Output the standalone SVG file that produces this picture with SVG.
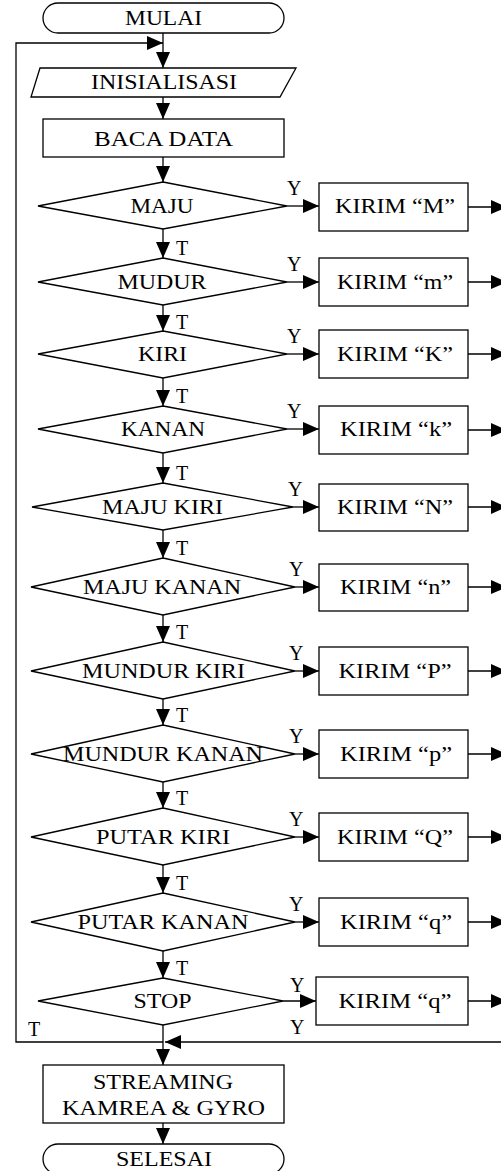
<svg xmlns="http://www.w3.org/2000/svg" width="501" height="1171" viewBox="0 0 501 1171">
<style>
.s{fill:#fff;stroke:#000;stroke-width:1.3}
.c{fill:none;stroke:#000;stroke-width:1.3}
text{font-family:"Liberation Serif","Times New Roman",serif;font-size:20px;fill:#000}
.m{text-anchor:middle}
</style>
<defs>
<marker id="ah" markerUnits="userSpaceOnUse" markerWidth="16" markerHeight="14" refX="16" refY="7" orient="auto">
<path d="M0,0 L16,7 L0,14 z" fill="#000"/>
</marker>
</defs>
<rect width="501" height="1171" fill="#fff"/>
<g id="connectors">
<line class="c" x1="163" y1="33" x2="163" y2="68" marker-end="url(#ah)"/>
<polyline class="c" points="163,1042 16,1042 16,43 163,43" marker-end="url(#ah)"/>
<line class="c" x1="163" y1="97" x2="163" y2="119" marker-end="url(#ah)"/>
<line class="c" x1="163" y1="157" x2="163" y2="182" marker-end="url(#ah)"/>
<line class="c" x1="163" y1="229" x2="163" y2="258" marker-end="url(#ah)"/>
<line class="c" x1="163" y1="305" x2="163" y2="331" marker-end="url(#ah)"/>
<line class="c" x1="163" y1="378" x2="163" y2="406" marker-end="url(#ah)"/>
<line class="c" x1="163" y1="453" x2="163" y2="483" marker-end="url(#ah)"/>
<line class="c" x1="163" y1="530" x2="163" y2="558" marker-end="url(#ah)"/>
<line class="c" x1="163" y1="615" x2="163" y2="642" marker-end="url(#ah)"/>
<line class="c" x1="163" y1="699" x2="163" y2="725" marker-end="url(#ah)"/>
<line class="c" x1="163" y1="782" x2="163" y2="808" marker-end="url(#ah)"/>
<line class="c" x1="163" y1="865" x2="163" y2="893" marker-end="url(#ah)"/>
<line class="c" x1="163" y1="951" x2="163" y2="978" marker-end="url(#ah)"/>
<line class="c" x1="163" y1="1025" x2="163" y2="1065" marker-end="url(#ah)"/>
<line class="c" x1="163" y1="1123" x2="163" y2="1144" marker-end="url(#ah)"/>
<line class="c" x1="507" y1="1042" x2="165" y2="1042" marker-end="url(#ah)"/>
<line class="c" x1="287" y1="206" x2="319" y2="206" marker-end="url(#ah)"/>
<line class="c" x1="287" y1="282" x2="319" y2="282" marker-end="url(#ah)"/>
<line class="c" x1="287" y1="354" x2="319" y2="354" marker-end="url(#ah)"/>
<line class="c" x1="287" y1="429" x2="319" y2="429" marker-end="url(#ah)"/>
<line class="c" x1="293" y1="507" x2="319" y2="507" marker-end="url(#ah)"/>
<line class="c" x1="295" y1="587" x2="319" y2="587" marker-end="url(#ah)"/>
<line class="c" x1="295" y1="671" x2="319" y2="671" marker-end="url(#ah)"/>
<line class="c" x1="295" y1="754" x2="319" y2="754" marker-end="url(#ah)"/>
<line class="c" x1="295" y1="837" x2="319" y2="837" marker-end="url(#ah)"/>
<line class="c" x1="295" y1="922" x2="319" y2="922" marker-end="url(#ah)"/>
<line class="c" x1="283" y1="1001" x2="316" y2="1001" marker-end="url(#ah)"/>
<line class="c" x1="468" y1="207" x2="507" y2="207" marker-end="url(#ah)"/>
<line class="c" x1="468" y1="282" x2="507" y2="282" marker-end="url(#ah)"/>
<line class="c" x1="468" y1="354" x2="507" y2="354" marker-end="url(#ah)"/>
<line class="c" x1="468" y1="430" x2="507" y2="430" marker-end="url(#ah)"/>
<line class="c" x1="468" y1="507" x2="507" y2="507" marker-end="url(#ah)"/>
<line class="c" x1="468" y1="587" x2="507" y2="587" marker-end="url(#ah)"/>
<line class="c" x1="468" y1="671" x2="507" y2="671" marker-end="url(#ah)"/>
<line class="c" x1="468" y1="754" x2="507" y2="754" marker-end="url(#ah)"/>
<line class="c" x1="468" y1="837" x2="507" y2="837" marker-end="url(#ah)"/>
<line class="c" x1="468" y1="922" x2="507" y2="922" marker-end="url(#ah)"/>
<line class="c" x1="468" y1="1001" x2="507" y2="1001" marker-end="url(#ah)"/>
<g id="labels">
<text x="176" y="255">T</text>
<text x="176" y="329">T</text>
<text x="176" y="403">T</text>
<text x="176" y="480">T</text>
<text x="176" y="555">T</text>
<text x="176" y="639">T</text>
<text x="176" y="722">T</text>
<text x="176" y="805">T</text>
<text x="176" y="890">T</text>
<text x="176" y="975">T</text>
<text x="28" y="1036">T</text>
<text x="287" y="195">Y</text>
<text x="287" y="271">Y</text>
<text x="287" y="343">Y</text>
<text x="287" y="418">Y</text>
<text x="288" y="496">Y</text>
<text x="289" y="576">Y</text>
<text x="289" y="660">Y</text>
<text x="289" y="743">Y</text>
<text x="289" y="826">Y</text>
<text x="289" y="911">Y</text>
<text x="290" y="992">Y</text>
<text x="290" y="1034">Y</text>
</g>
</g>
<g id="mulai"><rect class="s" x="43" y="3" width="241" height="30" rx="15"/><text class="m" x="163.5" y="24.5" textLength="77" lengthAdjust="spacingAndGlyphs">MULAI</text></g>
<g id="inisialisasi"><polygon class="s" points="40,68 296,68 280,97 31,97"/><text class="m" x="164" y="89" textLength="146" lengthAdjust="spacingAndGlyphs">INISIALISASI</text></g>
<g id="baca"><rect class="s" x="43" y="119" width="241" height="38"/><text class="m" x="163.5" y="145.5" textLength="139" lengthAdjust="spacingAndGlyphs">BACA DATA</text></g>
<g id="d-maju"><polygon class="s" points="163,182 287,206 163,229 38,206"/><text class="m" x="162" y="213" textLength="63" lengthAdjust="spacingAndGlyphs">MAJU</text></g>
<g id="d-mudur"><polygon class="s" points="163,258 287,282 163,305 38,282"/><text class="m" x="162" y="288.5" textLength="89" lengthAdjust="spacingAndGlyphs">MUDUR</text></g>
<g id="d-kiri"><polygon class="s" points="163,331 287,354 163,378 38,354"/><text class="m" x="162.5" y="361" textLength="49" lengthAdjust="spacingAndGlyphs">KIRI</text></g>
<g id="d-kanan"><polygon class="s" points="163,406 287,429 163,453 38,429"/><text class="m" x="163" y="436" textLength="84" lengthAdjust="spacingAndGlyphs">KANAN</text></g>
<g id="d-majukiri"><polygon class="s" points="163,483 293,507 163,530 32,507"/><text class="m" x="162.5" y="514" textLength="121" lengthAdjust="spacingAndGlyphs">MAJU KIRI</text></g>
<g id="d-majukanan"><polygon class="s" points="163,558 295,587 163,615 31,587"/><text class="m" x="162" y="594" textLength="158" lengthAdjust="spacingAndGlyphs">MAJU KANAN</text></g>
<g id="d-mundurkiri"><polygon class="s" points="163,642 295,671 163,699 31,671"/><text class="m" x="163.5" y="678" textLength="163" lengthAdjust="spacingAndGlyphs">MUNDUR KIRI</text></g>
<g id="d-mundurkanan"><polygon class="s" points="163,725 295,754 163,782 31,754"/><text class="m" x="163" y="761" textLength="200" lengthAdjust="spacingAndGlyphs">MUNDUR KANAN</text></g>
<g id="d-putarkiri"><polygon class="s" points="163,808 295,837 163,865 31,837"/><text class="m" x="163" y="844" textLength="134" lengthAdjust="spacingAndGlyphs">PUTAR KIRI</text></g>
<g id="d-putarkanan"><polygon class="s" points="163,893 295,922 163,951 31,922"/><text class="m" x="163" y="929" textLength="171" lengthAdjust="spacingAndGlyphs">PUTAR KANAN</text></g>
<g id="d-stop"><polygon class="s" points="163,978 283,1001 163,1025 38,1001"/><text class="m" x="162.5" y="1008" textLength="58" lengthAdjust="spacingAndGlyphs">STOP</text></g>
<g id="k-M"><rect class="s" x="319" y="183" width="149" height="48"/><text class="m" x="395" y="213" textLength="120" lengthAdjust="spacingAndGlyphs">KIRIM “M”</text></g>
<g id="k-m"><rect class="s" x="319" y="258" width="149" height="48"/><text class="m" x="395" y="288.5" textLength="116" lengthAdjust="spacingAndGlyphs">KIRIM “m”</text></g>
<g id="k-K"><rect class="s" x="319" y="330" width="149" height="48"/><text class="m" x="395" y="361" textLength="116" lengthAdjust="spacingAndGlyphs">KIRIM “K”</text></g>
<g id="k-k"><rect class="s" x="319" y="406" width="149" height="48"/><text class="m" x="396" y="436" textLength="112" lengthAdjust="spacingAndGlyphs">KIRIM “k”</text></g>
<g id="k-N"><rect class="s" x="319" y="484" width="149" height="47"/><text class="m" x="395" y="514" textLength="116" lengthAdjust="spacingAndGlyphs">KIRIM “N”</text></g>
<g id="k-n"><rect class="s" x="319" y="564" width="149" height="47"/><text class="m" x="395.5" y="594" textLength="111" lengthAdjust="spacingAndGlyphs">KIRIM “n”</text></g>
<g id="k-P"><rect class="s" x="319" y="647" width="149" height="48"/><text class="m" x="395" y="678" textLength="113" lengthAdjust="spacingAndGlyphs">KIRIM “P”</text></g>
<g id="k-p"><rect class="s" x="319" y="730" width="149" height="48"/><text class="m" x="396" y="761" textLength="112" lengthAdjust="spacingAndGlyphs">KIRIM “p”</text></g>
<g id="k-Q"><rect class="s" x="319" y="813" width="149" height="48"/><text class="m" x="395" y="844" textLength="116" lengthAdjust="spacingAndGlyphs">KIRIM “Q”</text></g>
<g id="k-q1"><rect class="s" x="319" y="898" width="149" height="48"/><text class="m" x="396" y="929" textLength="112" lengthAdjust="spacingAndGlyphs">KIRIM “q”</text></g>
<g id="k-q2"><rect class="s" x="316" y="977" width="152" height="48"/><text class="m" x="395" y="1008" textLength="113" lengthAdjust="spacingAndGlyphs">KIRIM “q”</text></g>
<g id="streaming"><rect class="s" x="43" y="1065" width="241" height="58"/><text class="m" x="163" y="1088.5" textLength="140" lengthAdjust="spacingAndGlyphs">STREAMING</text><text class="m" x="163.5" y="1115" textLength="203" lengthAdjust="spacingAndGlyphs">KAMREA &amp; GYRO</text></g>
<g id="selesai"><rect class="s" x="43" y="1144" width="241" height="30" rx="15"/><text class="m" x="164" y="1165.5" textLength="96" lengthAdjust="spacingAndGlyphs">SELESAI</text></g>
</svg>
